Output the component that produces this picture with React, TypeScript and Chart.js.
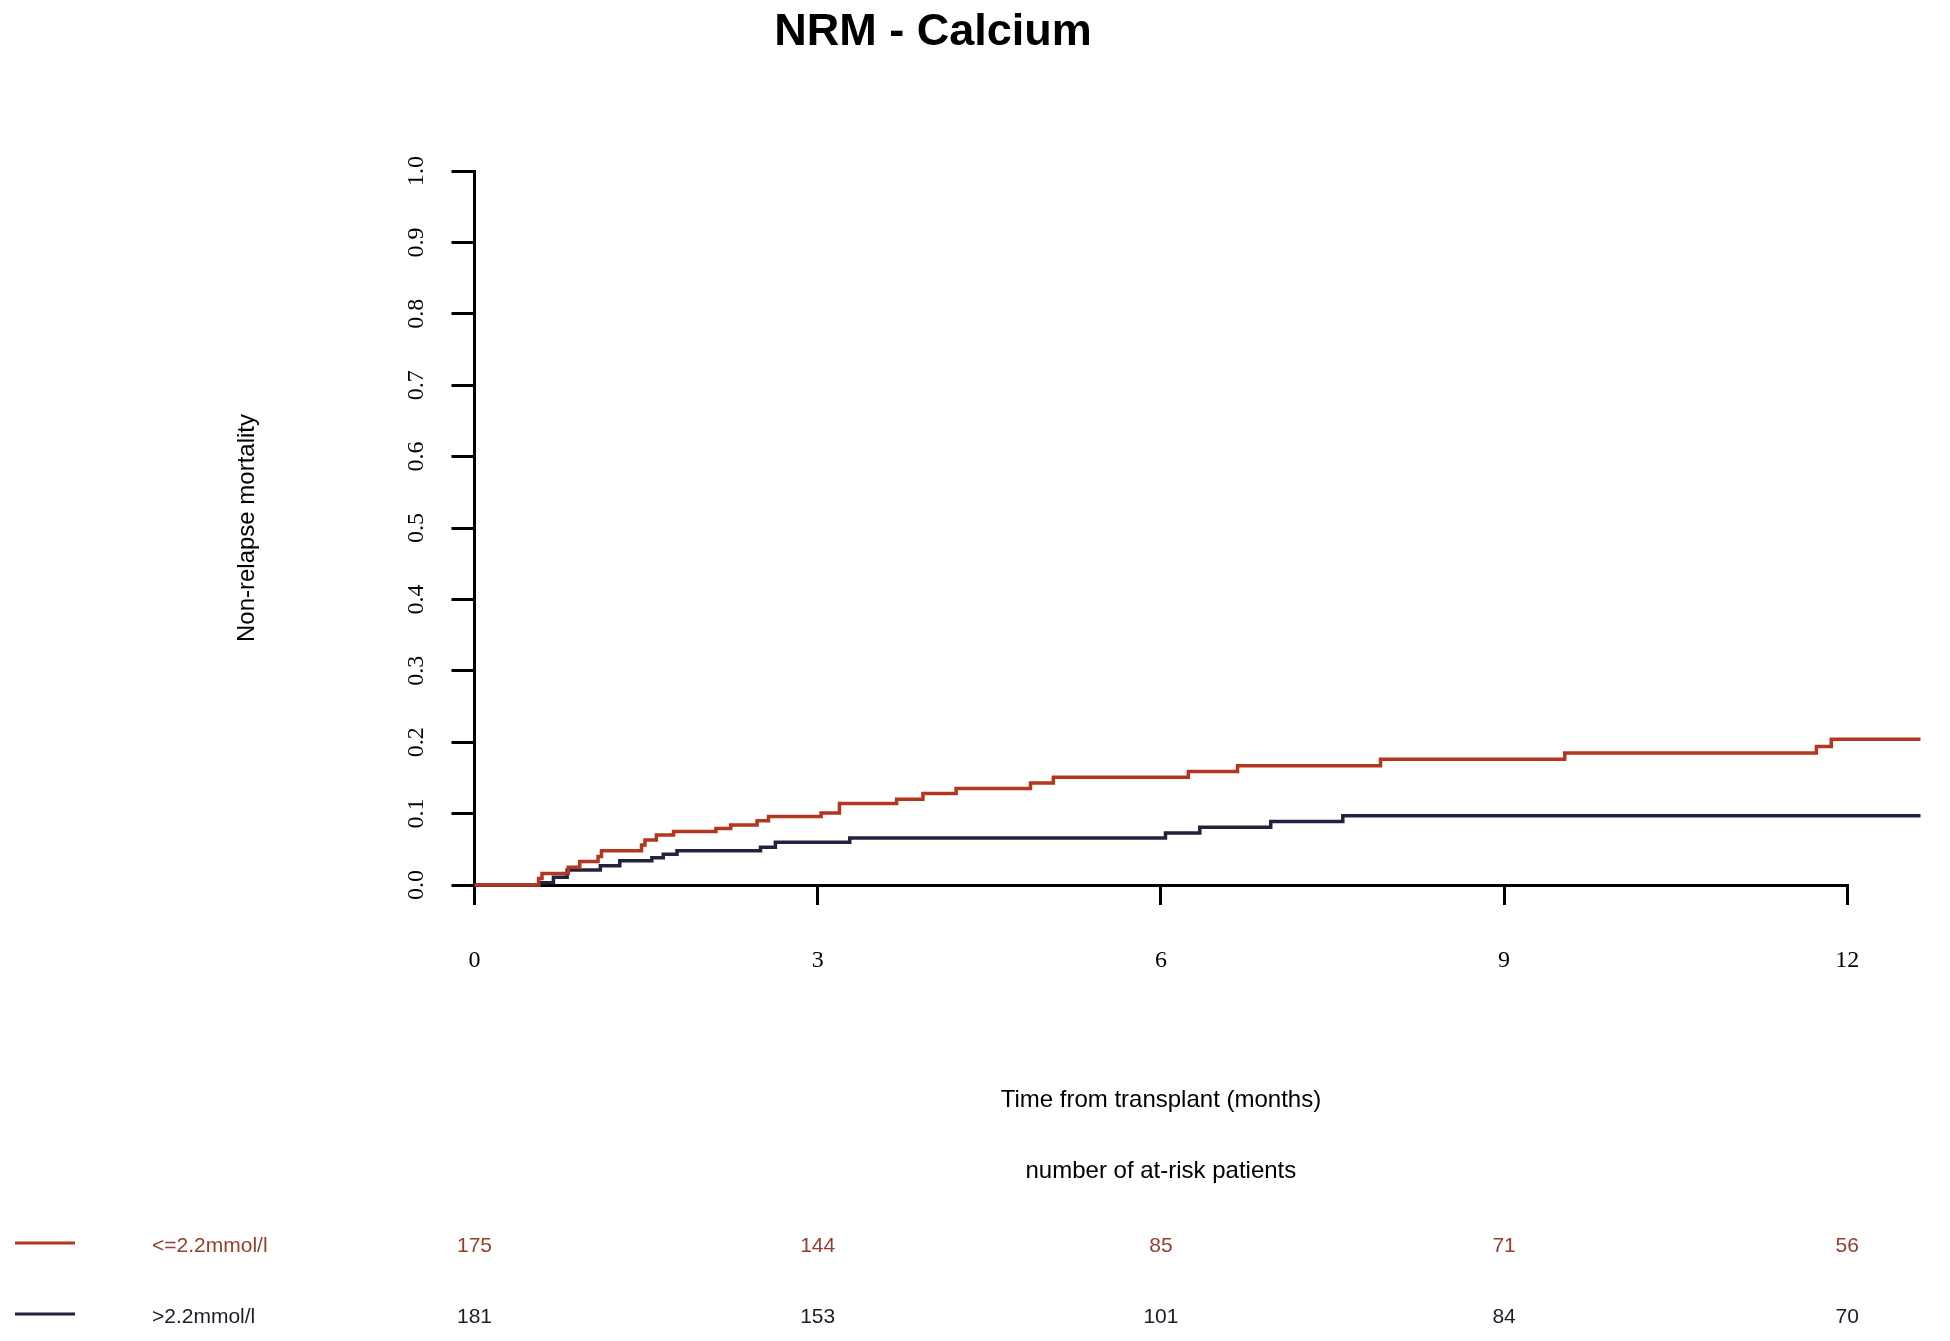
import React, { useEffect, useRef } from "react";
import { Chart, registerables, Plugin } from "chart.js";

Chart.register(...registerables);

// months after transplant where the at-risk counts are given
const monthTicks = [0, 3, 6, 9, 12];
const groupLabels = ["<=2.2mmol/l", ">2.2mmol/l"];

// cumulative incidence of NRM, step points (time in months, value)
const lowTimes = [
  0, 0.56, 0.59, 0.82, 0.92, 1.08, 1.11, 1.46, 1.49, 1.59, 1.74, 2.11, 2.24, 2.47, 2.57, 3.03,
  3.19, 3.69, 3.92, 4.21, 4.86, 5.06, 6.24, 6.67, 7.92, 9.53, 11.73, 11.86, 12.64,
];
const lowNrm = [
  0, 0.009, 0.016, 0.025, 0.033, 0.04, 0.048, 0.056, 0.063, 0.07, 0.075, 0.079, 0.084, 0.09,
  0.096, 0.101, 0.114, 0.12, 0.128, 0.135, 0.143, 0.151, 0.159, 0.167, 0.176, 0.185, 0.194,
  0.204, 0.204,
];

const highTimes = [
  0, 0.57, 0.69, 0.81, 1.1, 1.27, 1.55, 1.65, 1.77, 2.5, 2.63, 3.28, 6.04, 6.34, 6.96, 7.59, 12.64,
];
const highNrm = [
  0, 0.003, 0.011, 0.021, 0.027, 0.034, 0.038, 0.043, 0.048, 0.053, 0.06, 0.066, 0.073, 0.081,
  0.089, 0.097, 0.097,
];

const lowAtRisk = [175, 144, 85, 71, 56];
const highAtRisk = [181, 153, 101, 84, 70];

const LOW_LINE = "#b3361e";
const HIGH_LINE = "#22223f";
const LOW_TEXT = "#93402c";
const HIGH_TEXT = "#1c1c2a";

const SANS = "'Liberation Sans', Arial, sans-serif";
const SERIF = "'Liberation Serif', 'Times New Roman', serif";

const toPoints = (ts: number[], vs: number[]) => ts.map((t, i) => ({ x: t, y: vs[i] }));

// R-style extras: title, rotated y labels, axis titles and the at-risk table
const decorations: Plugin<"line"> = {
  id: "decorations",
  afterDraw(chart) {
    const { ctx, chartArea } = chart;
    const xs = chart.scales.x;
    const ys = chart.scales.y;
    ctx.save();
    ctx.fillStyle = "#000";
    ctx.textBaseline = "alphabetic";

    ctx.font = `bold 45px ${SANS}`;
    ctx.textAlign = "center";
    ctx.fillText("NRM - Calcium", 933, 45);

    // y tick labels, reading bottom to top
    ctx.font = `24px ${SERIF}`;
    ys.ticks.forEach((tick) => {
      const py = ys.getPixelForValue(tick.value);
      ctx.save();
      ctx.translate(chartArea.left - 52, py);
      ctx.rotate(-Math.PI / 2);
      ctx.textAlign = "center";
      ctx.fillText(tick.value.toFixed(1), 0, 0);
      ctx.restore();
    });

    ctx.font = `24px ${SANS}`;
    ctx.save();
    ctx.translate(254, (chartArea.top + chartArea.bottom) / 2);
    ctx.rotate(-Math.PI / 2);
    ctx.textAlign = "center";
    ctx.fillText("Non-relapse mortality", 0, 0);
    ctx.restore();

    const midX = xs.getPixelForValue(6);
    ctx.textAlign = "center";
    ctx.fillText("Time from transplant (months)", midX, 1107);
    ctx.fillText("number of at-risk patients", midX, 1178);

    const rows = [
      { label: groupLabels[0], counts: lowAtRisk, line: LOW_LINE, text: LOW_TEXT, base: 1252 },
      { label: groupLabels[1], counts: highAtRisk, line: HIGH_LINE, text: HIGH_TEXT, base: 1323 },
    ];
    rows.forEach((row) => {
      ctx.strokeStyle = row.line;
      ctx.lineWidth = 3;
      ctx.beginPath();
      ctx.moveTo(15, row.base - 9);
      ctx.lineTo(75, row.base - 9);
      ctx.stroke();

      ctx.fillStyle = row.text;
      ctx.font = `21px ${SANS}`;
      ctx.textAlign = "left";
      ctx.fillText(row.label, 152, row.base);
      ctx.textAlign = "center";
      row.counts.forEach((n, i) => {
        ctx.fillText(String(n), xs.getPixelForValue(monthTicks[i]), row.base);
      });
    });
    ctx.restore();
  },
};

const App: React.FC = () => {
  const canvasRef = useRef<HTMLCanvasElement | null>(null);
  const chartRef = useRef<Chart<"line"> | null>(null);

  useEffect(() => {
    document.body.style.margin = "0";
    if (chartRef.current) {
      chartRef.current.destroy();
    }
    if (!canvasRef.current) return;

    chartRef.current = new Chart(canvasRef.current, {
      type: "line",
      data: {
        datasets: [
          {
            label: groupLabels[0],
            data: toPoints(lowTimes, lowNrm),
            borderColor: LOW_LINE,
            borderWidth: 3.5,
            stepped: "before",
            pointRadius: 0,
            fill: false,
            clip: false,
          },
          {
            label: groupLabels[1],
            data: toPoints(highTimes, highNrm),
            borderColor: HIGH_LINE,
            borderWidth: 3.5,
            stepped: "before",
            pointRadius: 0,
            fill: false,
            clip: false,
          },
        ],
      },
      options: {
        responsive: false,
        animation: false,
        layout: {
          padding: { left: 434.5, right: 102.7, top: 171, bottom: 336 },
        },
        plugins: {
          legend: { display: false },
          tooltip: { enabled: false },
          title: { display: false },
        },
        scales: {
          x: {
            type: "linear",
            min: 0,
            max: 12,
            z: 1,
            afterFit: (scale) => {
              scale.height = 120;
            },
            ticks: {
              stepSize: 3,
              color: "#000",
              padding: 41,
              font: { family: SERIF, size: 24 },
            },
            grid: {
              drawOnChartArea: false,
              drawTicks: true,
              tickLength: 20,
              color: "#000",
              lineWidth: 3,
            },
            border: { display: true, color: "#000", width: 3 },
          },
          y: {
            type: "linear",
            min: 0,
            max: 1,
            afterFit: (scale) => {
              scale.width = 40;
            },
            ticks: { stepSize: 0.1, display: false },
            grid: {
              drawOnChartArea: false,
              drawTicks: true,
              tickLength: 23,
              color: "#000",
              lineWidth: 3,
            },
            border: { display: true, color: "#000", width: 3 },
          },
        },
      },
      plugins: [decorations],
    });

    return () => {
      if (chartRef.current) {
        chartRef.current.destroy();
        chartRef.current = null;
      }
    };
  }, []);

  return (
    <div style={{ width: 1950, height: 1341, background: "#fff" }}>
      <canvas ref={canvasRef} width={1950} height={1341} style={{ display: "block" }}></canvas>
    </div>
  );
};

export default App;
